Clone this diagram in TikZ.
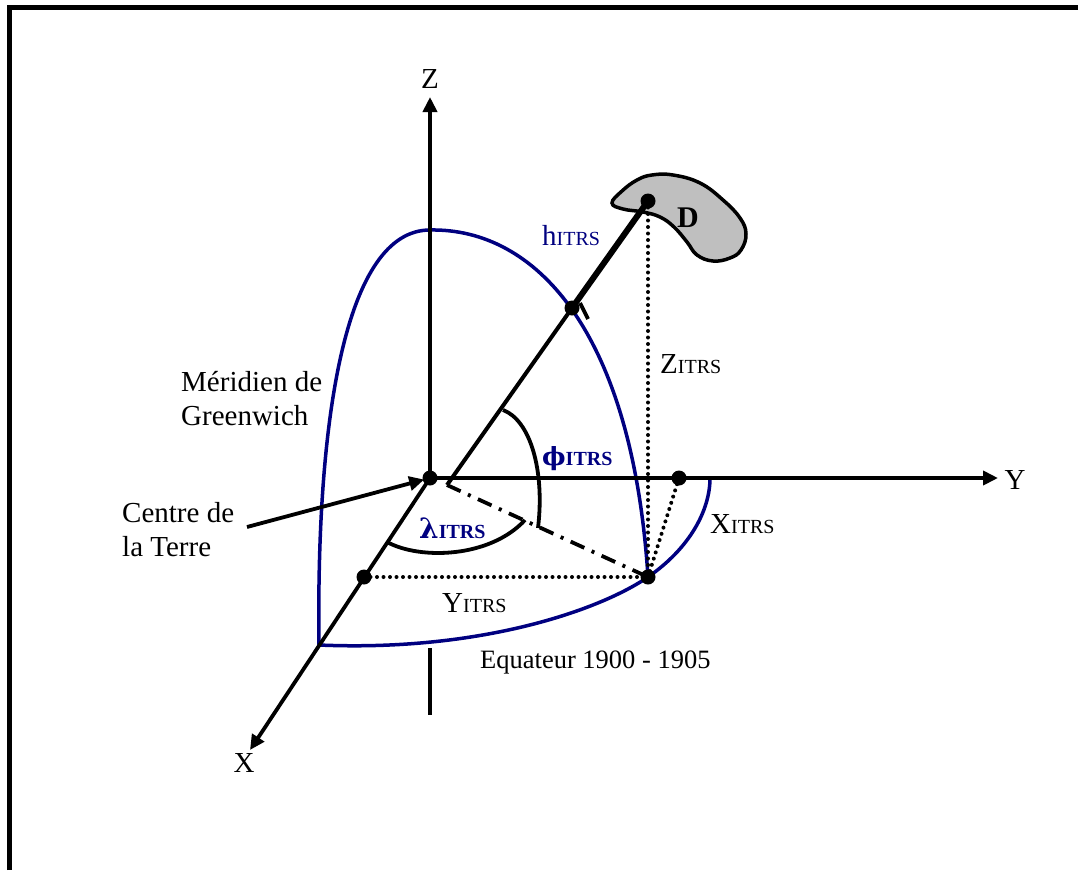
\documentclass[tikz,border=0pt]{standalone}
\usepackage{fontspec}
\setmainfont{Liberation Serif}
\newfontfamily\greekfont{DejaVu Serif}
\usetikzlibrary{arrows.meta, positioning}
\definecolor{navy}{RGB}{0,0,128}
\newcommand{\itrs}{{\fontsize{20}{22}\selectfont ITRS}}
\newcommand{\itrsbold}{{\fontsize{20}{22}\selectfont\bfseries ITRS}}
\newcommand{\greekbold}[2]{{\greekfont\bfseries\fontsize{#1}{#1}\selectfont #2}}
\tikzset{
    axis/.style = {line width=3.8pt, -{Triangle[length=15pt,width=14pt]}},
    plain/.style = {line width=3.8pt},
    pointdot/.style = {circle, fill=black, inner sep=0pt, minimum size=15pt},
    curve/.style = {draw=navy, line width=3.5pt},
    dotline/.style = {line width=4pt, line cap=round, dash pattern=on 0pt off 6.5pt},
    dashdotline/.style = {line width=3.8pt, dash pattern=on 15pt off 8pt on 3pt off 8pt},
    blob/.style = {draw=black, fill=black!25, line width=3.5pt},
    txt/.style = {font=\fontsize{29}{34}\selectfont, inner sep=0pt},
    sublabel/.style = {txt, anchor=base west}
}

\begin{document}
\begin{tikzpicture}[x=1pt, y=-1pt]
\useasboundingbox (0,0) rectangle (1078,870);

% --- FRAME ---
\draw[line width=5pt] (9,870) -- (9,7.5) -- (1078,7.5);

% --- POINTS ---
\coordinate (o) at (430,478);
\coordinate (p) at (572,308);
\coordinate (d) at (648,201);
\coordinate (yfoot) at (679,478);
\coordinate (q) at (648,577);
\coordinate (xfoot) at (364,577);
\coordinate (corner) at (319,645);
\coordinate (ztip) at (430,97);
\coordinate (ytip) at (998,478);
\coordinate (xtip) at (250,750);
\coordinate (zlow) at (430,648);
\coordinate (zend) at (430,715);
\coordinate (dstart) at (447,485);
\coordinate (ctail) at (247,527);
\coordinate (eqend) at (710,478);

% --- SITE D ---
\draw[blob] plot[smooth cycle, tension=0.7] coordinates {(612,203) (622,191) (637,180) (652,175) (673,175) (700,183) (723,200) (740,218) (746,234) (741,250) (730,258) (713,261) (697,255) (687,242) (674,227) (660,217) (643,212) (623,209)};

% --- MERIDIAN & EQUATOR ---
\draw[curve] (corner) .. controls (316,420) and (345,230) .. (430,230)
    .. controls (535,228) and (632,330) .. (q);
\draw[curve] (corner) .. controls (480,652) and (600,610) .. (q)
    .. controls (690,548) and (710,510) .. (eqend);

% --- AXES ---
\draw[axis] (o) -- (ztip);
\draw[axis] (o) -- (ytip);
\draw[axis] (o) -- (xtip);
\draw[plain] (zlow) -- (zend);
\draw[axis, shorten >=6pt] (ctail) -- (o);

% --- NORMAL & HEIGHT ---
\draw[line width=4pt] (dstart) -- (p);
\draw[line width=6pt] (p) -- (d);
\draw[plain] (580,303) -- (588,319);

% --- PROJECTIONS ---
\draw[dotline] (d) -- (q);
\draw[dotline] (yfoot) -- (q);
\draw[dotline] (xfoot) -- (q);
\draw[dashdotline] (dstart) -- (q);

% --- ANGLES ---
\draw[plain] (503,410) .. controls (530,420) and (545,470) .. (538,528);
\draw[plain] (387,542) .. controls (420,560) and (490,558) .. (525,520);

% --- DOTS ---
\node (odot) [pointdot] at (o) {};
\node (pdot) [pointdot] at (p) {};
\node (ddot) [pointdot] at (d) {};
\node (ydot) [pointdot] at (yfoot) {};
\node (qdot) [pointdot] at (q) {};
\node (xdot) [pointdot] at (xfoot) {};

% --- LABELS ---
\node (zlab) [txt] at (430,79) {Z};
\node (ylab) [txt] at (1015,480) {Y};
\node (xlab) [txt] at (244,763) {X};
\node (dlab) [txt, font=\fontsize{30}{34}\selectfont\bfseries] at (688,218) {D};
\node (hlab) [sublabel, text=navy] at (542,245) {h\itrs};
\node (zitrs) [sublabel] at (660,373) {Z\itrs};
\node (xitrs) [sublabel] at (710,533) {X\itrs};
\node (yitrs) [sublabel] at (442,612) {Y\itrs};
\node (philab) [sublabel, text=navy] at (542,465) {\greekbold{25}{ϕ}\itrsbold};
\node (lamlab) [sublabel, text=navy] at (419,538) {\greekbold{28}{λ}\itrsbold};
\node (merid) [txt, align=left, anchor=west] at (181,399) {Méridien de\\Greenwich};
\node (centre) [txt, align=left, anchor=west] at (122,530) {Centre de\\la Terre};
\node (equat) [sublabel, font=\fontsize{26.5}{30}\selectfont] at (480,668) {Equateur 1900 - 1905};

\end{tikzpicture}
\end{document}
